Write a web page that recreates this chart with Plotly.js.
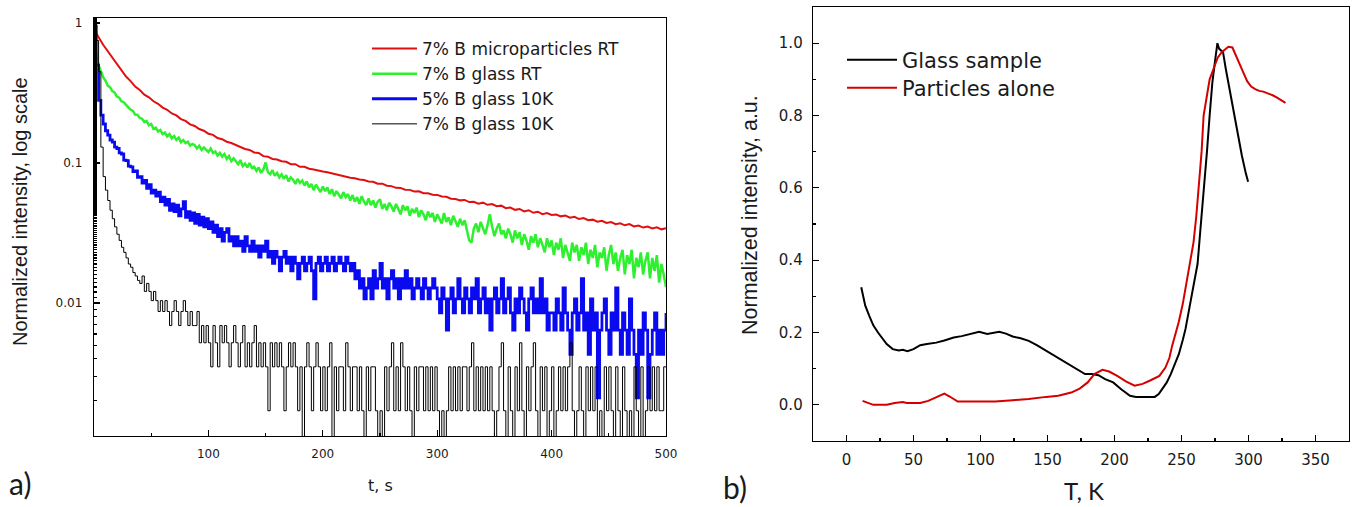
<!DOCTYPE html>
<html><head><meta charset="utf-8">
<script src="https://cdn.plot.ly/plotly-3.0.1.min.js"></script>
<style>html,body{margin:0;padding:0;background:#fff}#chart{width:1360px;height:507px}</style>
</head><body><div id="chart"></div>
<script>
// ---------- panel a) : decay curves, sampled from t = 0 s ----------
const seriesNames = ["7% B microparticles RT", "7% B glass RT", "5% B glass 10K", "7% B glass 10K"];
// 7% B microparticles RT, every 4 s
const redRT = [0.92,0.79,0.70,0.63,0.57,0.51,0.465,0.415,0.385,0.352,0.332,0.308,0.295,0.276,0.265,0.249,0.24,0.226,0.219,0.206,
0.2,0.189,0.184,0.175,0.17,0.162,0.159,0.151,0.148,0.142,0.139,0.134,0.13,0.126,0.124,0.119,0.118,0.112,0.111,0.107,
0.106,0.103,0.102,0.098,0.098,0.094,0.094,0.091,0.09,0.088,0.087,
0.0858,0.0842,0.0831,0.0815,0.0806,0.0785,0.0779,0.0762,0.0757,0.0738,0.0735,0.0712,0.0712,0.0688,0.0684,0.0665,0.0664,0.0645,0.0643,0.0627,0.0628,0.0608,0.0609,0.0594,0.0592,
0.0576,0.0574,0.0556,0.0553,0.0541,0.0545,0.0526,0.0529,0.0512,0.0521,0.0503,0.0509,0.0491,0.0496,0.0476,0.0481,0.0463,0.047,0.0451,0.046,0.0441,0.0449,0.0431,0.0439,0.0426,
0.0428,0.0416,0.0421,0.0407,0.0413,0.0398,0.0404,0.039,0.0394,0.0381,0.0387,0.0373,0.0379,0.0366,0.0371,0.0359,0.0366,0.0352,0.0358,0.0346,0.0352,0.0341,0.0347,0.0336,0.0342];
// 7% B glass RT, every 2 s
const greenRT = [0.80,0.60,0.50,0.452,0.41,0.388,0.357,0.348,0.326,0.319,
0.298,0.293,0.276,0.272,0.259,0.25,0.241,0.236,0.222,0.221,
0.21,0.207,0.196,0.2,0.186,0.19,0.175,0.179,0.168,0.172,
0.161,0.165,0.155,0.161,0.15,0.156,0.146,0.152,0.141,0.146,
0.139,0.142,0.133,0.137,0.134,0.127,0.133,0.124,0.129,0.125,
0.12,0.127,0.118,0.121,0.113,0.118,0.111,0.116,0.107,0.112,
0.103,0.108,0.102,0.098,0.105,0.095,0.099,0.093,0.1,0.092,
0.094,0.088,0.093,0.085,0.09,0.101,0.086,0.083,0.089,0.081,
0.085,0.079,0.083,0.077,0.082,0.074,0.079,0.076,0.071,0.077,
0.072,0.075,0.069,0.074,0.067,0.071,0.064,0.07,0.066,0.062,
0.068,0.063,0.067,0.06,0.065,0.058,0.063,0.059,0.056,0.062,
0.057,0.06,0.054,0.059,0.053,0.057,0.051,0.058,0.053,0.05,
0.056,0.05,0.054,0.048,0.053,0.055,0.047,0.051,0.046,0.052,
0.049,0.045,0.051,0.047,0.043,0.05,0.046,0.049,0.042,0.047,
0.044,0.048,0.041,0.046,0.043,0.039,0.045,0.041,0.044,0.038,
0.043,0.04,0.037,0.044,0.038,0.041,0.036,0.042,0.038,0.035,
0.04,0.036,0.039,0.033,0.028,0.027,0.034,0.037,0.032,0.038,
0.034,0.031,0.036,0.043,0.035,0.03,0.034,0.037,0.031,0.033,
0.029,0.034,0.031,0.027,0.033,0.029,0.032,0.026,0.031,0.028,
0.024,0.03,0.027,0.031,0.025,0.029,0.026,0.023,0.029,0.025,
0.028,0.022,0.027,0.024,0.029,0.021,0.026,0.023,0.02,0.027,
0.023,0.026,0.02,0.025,0.022,0.027,0.019,0.024,0.021,0.026,
0.018,0.023,0.021,0.025,0.017,0.022,0.026,0.019,0.023,0.017,
0.021,0.024,0.016,0.022,0.019,0.024,0.015,0.021,0.018,0.023,
0.016,0.02,0.023,0.015,0.021,0.017,0.022,0.014,0.019,0.016,
0.013];
// 5% B glass 10K, every 2 s
const blue10K = [0.95,0.5,0.28,0.22,0.19,0.17,0.158,0.146,0.141,0.13,0.127,0.118,0.116,0.105,0.104,0.095,0.094,0.087,0.088,0.079,
0.08,0.072,0.075,0.066,0.07,0.061,0.064,0.058,0.062,0.053,0.057,0.05,0.055,0.046,0.051,0.045,0.05,0.042,0.047,0.053,
0.041,0.045,0.039,0.044,0.037,0.043,0.036,0.041,0.035,0.04,
0.034,0.038,0.032,0.036,0.0298,0.034,0.0277,0.032,0.034,0.0277,
0.0298,0.0256,0.0298,0.0256,0.0277,0.0234,0.0298,0.0256,0.0234,0.0277,
0.0234,0.0256,0.0213,0.0256,0.0234,0.0277,0.0213,0.0234,0.0192,0.0234,
0.0213,0.017,0.0213,0.0234,0.0192,0.0213,0.017,0.0213,0.0192,0.0149,
0.0192,0.0213,0.017,0.0192,0.0213,0.017,0.0107,0.0192,0.0213,0.017,
0.0192,0.0213,0.017,0.0192,0.0213,0.017,0.0192,0.0213,0.0192,0.017,
0.0213,0.0192,0.017,0.0192,0.0149,0.017,0.0128,0.0149,0.0107,0.0128,
0.0149,0.0107,0.017,0.0128,0.0149,0.0192,0.0128,0.0149,0.0107,0.0149,
0.017,0.0128,0.0149,0.0107,0.0149,0.0128,0.017,0.0128,0.0149,0.0107,
0.0128,0.0149,0.0128,0.0107,0.0149,0.0128,0.0107,0.0128,0.0149,0.0128,
0.0107,0.0085,0.0128,0.0107,0.0064,0.0107,0.0128,0.0085,0.0107,0.0149,
0.0107,0.0085,0.0128,0.0107,0.0085,0.0128,0.0107,0.0149,0.0085,0.0107,
0.0128,0.0085,0.0107,0.0064,0.0107,0.0128,0.0085,0.0107,0.0149,0.0085,
0.0107,0.0128,0.0085,0.0064,0.0107,0.0085,0.0128,0.0107,0.0085,0.0064,
0.0107,0.0128,0.0085,0.0107,0.0085,0.0149,0.0085,0.0107,0.0064,0.0085,
0.0085,0.0064,0.0107,0.0085,0.0064,0.0128,0.0085,0.0064,0.0043,0.0085,
0.0107,0.0064,0.0085,0.0149,0.0064,0.0085,0.0043,0.0107,0.0064,0.0085,
0.0021,0.0064,0.0085,0.0107,0.0064,0.0043,0.0085,0.0064,0.0128,0.0064,
0.0043,0.0085,0.0064,0.0043,0.0107,0.0064,0.0043,0.0021,0.0064,0.0043,
0.0085,0.0064,0.0021,0.0043,0.0064,0.0085,0.0043,0.0064,0.0043,0.0064,
0.0085];
// 7% B glass 10K, every 2 s (0.0009 = zero counts, below the log axis floor)
const black10K = [0.95,0.75,0.45,0.13,0.08,0.064,0.054,0.046,0.04,0.035,
0.031,0.028,0.025,0.023,0.021,0.019,0.018,0.0165,0.0156,0.0145,
0.0138,0.0156,0.0121,0.0138,0.0121,0.0104,0.0121,0.0104,0.0087,0.0104,
0.0087,0.0104,0.0087,0.0069,0.0087,0.0104,0.0087,0.0069,0.0087,0.0104,
0.0087,0.0069,0.0087,0.0069,0.0069,0.0087,0.0052,0.0069,0.0052,0.0069,
0.0052,0.0035,0.0069,0.0052,0.0035,0.0069,0.0052,0.0069,0.0052,0.0035,
0.0052,0.0069,0.0052,0.0035,0.0052,0.0069,0.0035,0.0052,0.0035,0.0052,
0.0069,0.0035,0.0052,0.0035,0.0052,0.0035,0.0017,0.0052,0.0035,0.0052,
0.0035,0.0052,0.0035,0.0017,0.0035,0.0052,0.0035,0.0052,0.0035,0.0017,
0.0035,0.0009,0.0035,0.0052,0.0035,0.0017,0.0035,0.0052,0.0035,0.0017,
0.0035,0.0017,0.0035,0.0052,0.0009,0.0035,0.0017,0.0035,0.0035,0.0017,
0.0052,0.0035,0.0017,0.0035,0.0035,0.0017,0.0035,0.0017,0.0009,0.0035,
0.0017,0.0035,0.0035,0.0017,0.0009,0.0017,0.0009,0.0035,0.0017,0.0035,
0.0052,0.0017,0.0035,0.0017,0.0052,0.0035,0.0017,0.0035,0.0017,0.0009,
0.0035,0.0017,0.0035,0.0035,0.0017,0.0035,0.0017,0.0035,0.0017,0.0035,
0.0017,0.0009,0.0017,0.0009,0.0017,0.0035,0.0017,0.0035,0.0017,0.0035,
0.0017,0.0035,0.0035,0.0017,0.0035,0.0052,0.0017,0.0035,0.0017,0.0035,
0.0017,0.0035,0.0017,0.0035,0.0017,0.0009,0.0017,0.0035,0.0052,0.0017,
0.0009,0.0035,0.0017,0.0009,0.0035,0.0017,0.0052,0.0017,0.0009,0.0035,
0.0017,0.0035,0.0052,0.0017,0.0009,0.0035,0.0017,0.0035,0.0009,0.0017,
0.0035,0.0009,0.0017,0.0035,0.0017,0.0035,0.0017,0.0035,0.0052,0.0017,
0.0009,0.0017,0.0035,0.0017,0.0009,0.0035,0.0017,0.0035,0.0017,0.0035,
0.0009,0.0017,0.0009,0.0035,0.0017,0.0035,0.0017,0.0009,0.0035,0.0017,
0.0009,0.0035,0.0017,0.0009,0.0017,0.0009,0.0035,0.0017,0.0009,0.0035,
0.0009,0.0017,0.0035,0.0017,0.0035,0.0017,0.0035,0.0017,0.0017,0.0035,
0.0035];
const aXTicks = [100, 200, 300, 400, 500];
const aYTicks = [0.01, 0.1, 1];
const aYTickText = ["0.01", "0.1", "1"];

// ---------- panel b) : intensity vs temperature ----------
const glassT = [11,14,17,20,23.5,27,30,34.5,39,42,45.5,50,55,60,67,73,80,86,92.5,99,105,111,114,119,124,130,136,142,149,155,161,167,174,178,183,188,193,199,205,211.6,216,221,226,230,233,236,239,242,245,248,251,253,256,259,262,264,267,269,271,273,275,276.8,278,279.5,281,283,286,289,292,295,298,299.7];
const glassI = [0.325,0.274,0.246,0.22,0.2,0.183,0.168,0.154,0.15,0.152,0.148,0.154,0.165,0.168,0.172,0.178,0.186,0.19,0.197,0.202,0.196,0.2,0.202,0.197,0.189,0.184,0.177,0.165,0.149,0.136,0.122,0.108,0.094,0.085,0.085,0.082,0.071,0.062,0.043,0.025,0.022,0.022,0.022,0.022,0.03,0.045,0.062,0.085,0.11,0.14,0.18,0.21,0.27,0.33,0.39,0.48,0.6,0.7,0.8,0.89,0.95,1.0,0.985,0.98,0.975,0.93,0.87,0.8,0.74,0.69,0.64,0.617];
const partT = [12,15.7,20,25,30,36,42,45,50,55,61,67,73,77,83,90,100,111,124,136,149,158,167.7,174,180,185,191,196,202,208.5,215,221,227,233.5,238,241,243,246,248,251,254,257,259,261,263,265,266.5,268,271,274,277,280,283,285,288,290,293,296,299,302,305,308,311,314,318,321,324,327.6];
const partI = [0.011,0.005,0.0,0.0,0.0,0.005,0.008,0.005,0.005,0.005,0.011,0.02,0.031,0.023,0.009,0.009,0.009,0.009,0.013,0.016,0.022,0.025,0.034,0.045,0.062,0.085,0.097,0.092,0.08,0.065,0.053,0.058,0.068,0.08,0.103,0.13,0.163,0.2,0.23,0.28,0.34,0.4,0.45,0.52,0.6,0.7,0.8,0.83,0.9,0.93,0.96,0.975,0.985,0.99,0.988,0.97,0.945,0.92,0.895,0.88,0.873,0.868,0.866,0.862,0.856,0.85,0.843,0.835];
const bNames = ["Glass sample", "Particles alone"];
const bXTicks = [0, 50, 100, 150, 200, 250, 300, 350];

const W = 1360, H = 507;
const px = v => v / W, py = v => 1 - v / H;
const TXT = '#1a1a1a';

const traces = [
  {y: redRT, x0: 0, dx: 4, type: 'scatter', mode: 'lines', name: seriesNames[0], line: {color: '#e01010', width: 2}, xaxis: 'x', yaxis: 'y', legend: 'legend'},
  {y: greenRT, x0: 0, dx: 2, type: 'scatter', mode: 'lines', name: seriesNames[1], line: {color: '#2ef02e', width: 2.5}, xaxis: 'x', yaxis: 'y', legend: 'legend'},
  {y: blue10K, x0: 0, dx: 2, type: 'scatter', mode: 'lines', name: seriesNames[2], line: {color: '#0a0af0', width: 2.8, shape: 'hv'}, xaxis: 'x', yaxis: 'y', legend: 'legend'},
  {y: black10K, x0: 0, dx: 2, type: 'scatter', mode: 'lines', name: seriesNames[3], line: {color: '#000000', width: 1, shape: 'hv'}, xaxis: 'x', yaxis: 'y', legend: 'legend'},
  {x: glassT, y: glassI, type: 'scatter', mode: 'lines', name: bNames[0], line: {color: '#000000', width: 2}, xaxis: 'x2', yaxis: 'y2', legend: 'legend2'},
  {x: partT, y: partI, type: 'scatter', mode: 'lines', name: bNames[1], line: {color: '#d40000', width: 2}, xaxis: 'x2', yaxis: 'y2', legend: 'legend3'}
];

const axBase = {showline: true, mirror: true, linecolor: '#000', linewidth: 1.3, showgrid: false, zeroline: false, ticks: 'inside', tickcolor: '#000', tickwidth: 1.2};
const legB = {xanchor: 'left', yanchor: 'middle', bgcolor: 'rgba(0,0,0,0)', borderwidth: 0,
    font: {size: 21, family: 'DejaVu Sans', color: TXT}, itemwidth: 50, itemclick: false};

const layout = {
  width: W, height: H, margin: {l: 0, r: 0, t: 0, b: 0},
  paper_bgcolor: '#fff', plot_bgcolor: '#fff',
  font: {family: 'DejaVu Sans', color: TXT},
  showlegend: true,
  xaxis: Object.assign({}, axBase, {domain: [px(94), px(666)], range: [0, 500], tickmode: 'array', tickvals: aXTicks, ticklen: 6,
    tickfont: {size: 12, color: TXT}, ticklabelstandoff: 6, anchor: 'y',
    minor: {ticks: 'inside', ticklen: 3, tick0: 0, dtick: 50, tickcolor: '#000', showgrid: false}}),
  yaxis: Object.assign({}, axBase, {domain: [py(436), py(18)], type: 'log', range: [-2.95, 0.036], tickmode: 'array', tickvals: aYTicks, ticktext: aYTickText, ticklen: 6,
    tickfont: {size: 12, color: TXT}, ticklabelstandoff: 8, anchor: 'x',
    minor: {ticks: 'inside', ticklen: 3, tickcolor: '#000', showgrid: false}}),
  xaxis2: Object.assign({}, axBase, {domain: [px(813), px(1349)], range: [-25, 375], tickmode: 'array', tickvals: bXTicks, ticklen: 6,
    tickfont: {size: 15, color: TXT}, ticklabelstandoff: 5, anchor: 'y2',
    minor: {ticks: 'inside', ticklen: 3, tick0: 0, dtick: 25, tickcolor: '#000', showgrid: false}}),
  yaxis2: Object.assign({}, axBase, {domain: [py(441), py(7)], range: [-0.1, 1.1], tick0: 0, dtick: 0.2, tickformat: '.1f', ticklen: 6,
    tickfont: {size: 15, color: TXT}, ticklabelstandoff: 6, anchor: 'x2',
    minor: {ticks: 'inside', ticklen: 3, tick0: 0, dtick: 0.1, tickcolor: '#000', showgrid: false}}),
  legend: {x: px(367), y: py(31), xanchor: 'left', yanchor: 'top', bgcolor: 'rgba(0,0,0,0)', borderwidth: 0,
    font: {size: 17, family: 'DejaVu Sans', color: TXT}, itemwidth: 45, tracegroupgap: 0, itemclick: false},
  legend2: Object.assign({}, legB, {x: px(842), y: py(60)}),
  legend3: Object.assign({}, legB, {x: px(842), y: py(88)}),
  annotations: [
    {text: 'Normalized intensity, log scale', x: px(20), y: py(212), xref: 'paper', yref: 'paper', showarrow: false, textangle: -90, xanchor: 'center', yanchor: 'middle', font: {family: 'Liberation Sans', size: 20, color: TXT}},
    {text: 't, s', x: px(380), y: py(485), xref: 'paper', yref: 'paper', showarrow: false, xanchor: 'center', yanchor: 'middle', font: {family: 'DejaVu Sans', size: 16, color: TXT}},
    {text: 'a)', x: px(20), y: py(483), xref: 'paper', yref: 'paper', showarrow: false, xanchor: 'center', yanchor: 'middle', font: {family: 'Lato', size: 30, color: TXT}},
    {text: 'Normalized intensity, a.u.', x: px(750), y: py(215), xref: 'paper', yref: 'paper', showarrow: false, textangle: -90, xanchor: 'center', yanchor: 'middle', font: {family: 'Liberation Sans', size: 21.5, color: TXT}},
    {text: 'T, K', x: px(1084), y: py(490), xref: 'paper', yref: 'paper', showarrow: false, xanchor: 'center', yanchor: 'middle', font: {family: 'Lato', size: 24, color: TXT}},
    {text: 'b)', x: px(735), y: py(487), xref: 'paper', yref: 'paper', showarrow: false, xanchor: 'center', yanchor: 'middle', font: {family: 'Lato', size: 30, color: TXT}}
  ]
};

Plotly.newPlot('chart', traces, layout, {staticPlot: true, displayModeBar: false});
</script>
</body></html>
